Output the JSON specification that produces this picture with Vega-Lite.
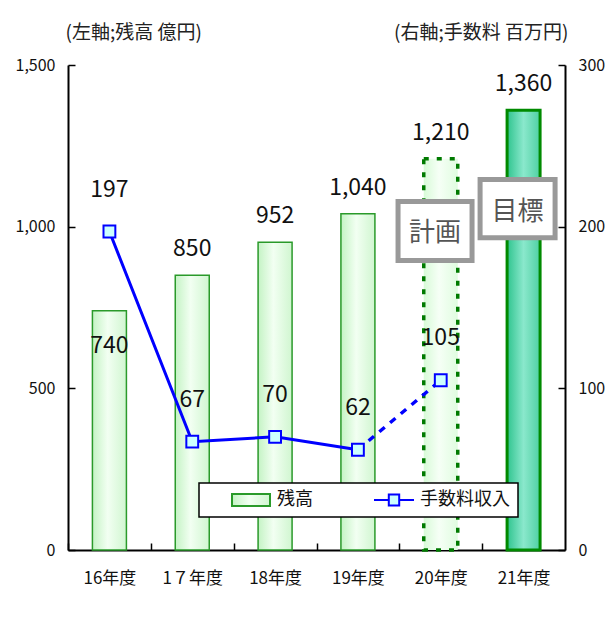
{
  "$schema": "https://vega.github.io/schema/vega-lite/v6.json",
  "width": 497,
  "height": 485,
  "autosize": {"type": "none"},
  "padding": {"left": 68, "top": 65, "right": 42, "bottom": 69},
  "background": "white",
  "data": {
    "values": [
      {"year": "16年度", "balance": 740, "fee": 197},
      {"year": "1７年度", "balance": 850, "fee": 67},
      {"year": "18年度", "balance": 952, "fee": 70},
      {"year": "19年度", "balance": 1040, "fee": 62},
      {"year": "20年度", "balance": 1210, "fee": 105},
      {"year": "21年度", "balance": 1360, "fee": null}
    ]
  },
  "encoding": {
    "x": {
      "field": "year",
      "type": "nominal",
      "sort": null,
      "scale": {"paddingInner": 0, "paddingOuter": 0},
      "axis": {
        "title": null,
        "labelAngle": 0,
        "labelFontSize": 17,
        "labelPadding": 27,
        "tickSize": -7,
        "tickOffset": -41.4,
        "labelOffset": 41.4,
        "domainWidth": 2,
        "tickWidth": 1.5
      }
    }
  },
  "layer": [
    {
      "encoding": {
        "y": {
          "field": "balance",
          "type": "quantitative",
          "scale": {"domain": [0, 1500], "nice": false},
          "axis": {
            "values": [0, 500, 1000, 1500],
            "labelExpr": "format(datum.value, ',')",
            "tickSize": -7,
            "labelPadding": 20,
            "labelFontSize": 16,
            "domainWidth": 2,
            "tickWidth": 1.5,
            "title": "(左軸;残高 億円)",
            "titleAngle": 0,
            "titleX": -3,
            "titleY": -33,
            "titleAlign": "left",
            "titleBaseline": "middle",
            "titleFontSize": 19,
            "titleFontWeight": "normal",
            "titleColor": "#222"
          }
        }
      },
      "layer": [
        {
          "transform": [{"filter": "datum.year !== '20年度' && datum.year !== '21年度'"}],
          "mark": {
            "type": "bar",
            "width": 34,
            "fill": {"gradient": "linear", "x1": 0, "y1": 0, "x2": 1, "y2": 0,
              "stops": [{"offset": 0, "color": "#c4f3c4"}, {"offset": 0.45, "color": "#f2fff2"}, {"offset": 1, "color": "#d0f6d0"}]},
            "stroke": "#2a9a2a",
            "strokeWidth": 1.5
          }
        },
        {
          "transform": [{"filter": "datum.year === '20年度'"}],
          "mark": {
            "type": "bar",
            "width": 34,
            "fill": {"gradient": "linear", "x1": 0, "y1": 0, "x2": 1, "y2": 0,
              "stops": [{"offset": 0, "color": "#d8fbd8"}, {"offset": 0.45, "color": "#f6fff6"}, {"offset": 1, "color": "#e0fce0"}]},
            "stroke": "#007a00",
            "strokeWidth": 3.5,
            "strokeDash": [5, 8]
          }
        },
        {
          "transform": [{"filter": "datum.year === '21年度'"}],
          "mark": {
            "type": "bar",
            "width": 33,
            "fill": {"gradient": "linear", "x1": 0, "y1": 0, "x2": 1, "y2": 0,
              "stops": [{"offset": 0, "color": "#2fc48e"}, {"offset": 0.5, "color": "#8ae8cc"}, {"offset": 1, "color": "#4fd0a2"}]},
            "stroke": "#008a00",
            "strokeWidth": 3
          }
        },
        {
          "transform": [{"filter": "datum.year === '20年度'"}],
          "mark": {"type": "bar", "width": 74, "xOffset": -5.7, "fill": "white", "stroke": "#999999", "strokeWidth": 5},
          "encoding": {"y": {"datum": 1078, "type": "quantitative"}, "y2": {"datum": 895}}
        },
        {
          "transform": [{"filter": "datum.year === '20年度'"}],
          "mark": {"type": "text", "fontSize": 26, "color": "#555555", "xOffset": -5.7, "baseline": "middle", "font": "Noto Sans CJK JP"},
          "encoding": {"y": {"datum": 980, "type": "quantitative"}, "text": {"value": "計画"}}
        },
        {
          "transform": [{"filter": "datum.year === '21年度'"}],
          "mark": {"type": "bar", "width": 75, "xOffset": -6, "fill": "white", "stroke": "#999999", "strokeWidth": 5},
          "encoding": {"y": {"datum": 1146, "type": "quantitative"}, "y2": {"datum": 966}}
        },
        {
          "transform": [{"filter": "datum.year === '21年度'"}],
          "mark": {"type": "text", "fontSize": 26, "color": "#555555", "xOffset": -6, "baseline": "middle", "font": "Noto Sans CJK JP"},
          "encoding": {"y": {"datum": 1045, "type": "quantitative"}, "text": {"value": "目標"}}
        },
        {
          "transform": [{"filter": "datum.year !== '16年度'"}],
          "mark": {"type": "text", "fontSize": 23, "color": "#111", "dy": -26, "baseline": "middle"},
          "encoding": {"text": {"field": "balance", "type": "quantitative", "format": ","}}
        },
        {
          "transform": [{"filter": "datum.year === '16年度'"}],
          "mark": {"type": "text", "fontSize": 23, "color": "#111", "dy": 35, "baseline": "middle"},
          "encoding": {"text": {"field": "balance", "type": "quantitative", "format": ","}}
        }
      ]
    },
    {
      "encoding": {
        "y": {
          "field": "fee",
          "type": "quantitative",
          "scale": {"domain": [0, 300], "nice": false},
          "axis": {
            "orient": "right",
            "values": [0, 100, 200, 300],
            "tickSize": -7,
            "labelPadding": 20,
            "labelFontSize": 16,
            "domainWidth": 2,
            "tickWidth": 1.5,
            "title": "(右軸;手数料 百万円)",
            "titleAngle": 0,
            "titleX": 3,
            "titleY": -33,
            "titleAlign": "right",
            "titleBaseline": "middle",
            "titleFontSize": 19,
            "titleFontWeight": "normal",
            "titleColor": "#222"
          }
        }
      },
      "layer": [
        {
          "transform": [{"filter": "datum.fee != null && datum.year !== '20年度'"}],
          "mark": {"type": "line", "strokeWidth": 3},
          "encoding": {
            "color": {
              "datum": "手数料収入",
              "type": "nominal",
              "scale": {"domain": ["残高", "手数料収入"], "range": ["#2a9a2a", "#0000ff"]},
              "legend": {
                "title": " ",
                "titleOrient": "left",
                "titlePadding": 23,
                "orient": "none",
                "legendX": 131,
                "legendY": 418,
                "direction": "horizontal",
                "columns": 2,
                "padding": 8,
                "strokeColor": "#000000",
                "fillColor": "#ffffff",
                "symbolSize": 1600,
                "symbolStrokeWidth": 2,
                "clipHeight": 18,
                "labelFontSize": 18,
                "labelColor": "#111",
                "labelOffset": 5,
                "columnPadding": 60,
                "encode": {
                  "legend": {"update": {"strokeWidth": {"value": 1.5}}},
                  "symbols": {
                    "update": {
                      "shape": {"signal": "datum.value === '残高' ? 'M-0.95,-0.3H0.95V0.3H-0.95Z' : 'M-1,0H-0.26M0.26,0H1M-0.26,-0.28H0.26V0.28H-0.26ZM6.5,0'"},
                      "fill": {"signal": "datum.value === '残高' ? {gradient: 'linear', x1: 0, y1: 0, x2: 1, y2: 0, stops: [{offset: 0, color: '#c4f3c4'}, {offset: 0.45, color: '#f2fff2'}, {offset: 1, color: '#d0f6d0'}]} : '#ccffff'"},
                      "stroke": {"signal": "datum.value === '残高' ? '#2a9a2a' : '#0000ff'"},
                      "opacity": {"value": 1}
                    }
                  }
                }
              }
            }
          }
        },
        {
          "transform": [{"filter": "datum.year === '19年度' || datum.year === '20年度'"}],
          "mark": {"type": "line", "strokeWidth": 3.5, "strokeDash": [7, 7]},
          "encoding": {
            "color": {"datum": "手数料収入", "type": "nominal"}
          }
        },
        {
          "transform": [{"filter": "datum.fee != null"}],
          "mark": {"type": "point", "shape": "square", "filled": true, "fill": "#ccffff", "stroke": "#0000ff", "strokeWidth": 2, "size": 140, "opacity": 1}
        },
        {
          "transform": [{"filter": "datum.fee != null"}],
          "mark": {"type": "text", "fontSize": 23, "color": "#111", "dy": -42, "baseline": "middle"},
          "encoding": {"text": {"field": "fee", "type": "quantitative"}}
        }
      ]
    }
  ],
  "resolve": {"scale": {"y": "independent"}},
  "config": {
    "font": "Noto Sans CJK JP, sans-serif",
    "axis": {
      "labelFont": "Noto Sans CJK JP, sans-serif",
      "titleFont": "Noto Sans CJK JP, sans-serif",
      "labelColor": "#111",
      "domainColor": "#000",
      "tickColor": "#000",
      "grid": false
    },
    "legend": {
      "labelFont": "Noto Sans CJK JP, sans-serif",
      "titleFont": "Noto Sans CJK JP, sans-serif"
    },
    "text": {"font": "Noto Sans CJK JP, sans-serif"},
    "view": {"stroke": null}
  }
}
